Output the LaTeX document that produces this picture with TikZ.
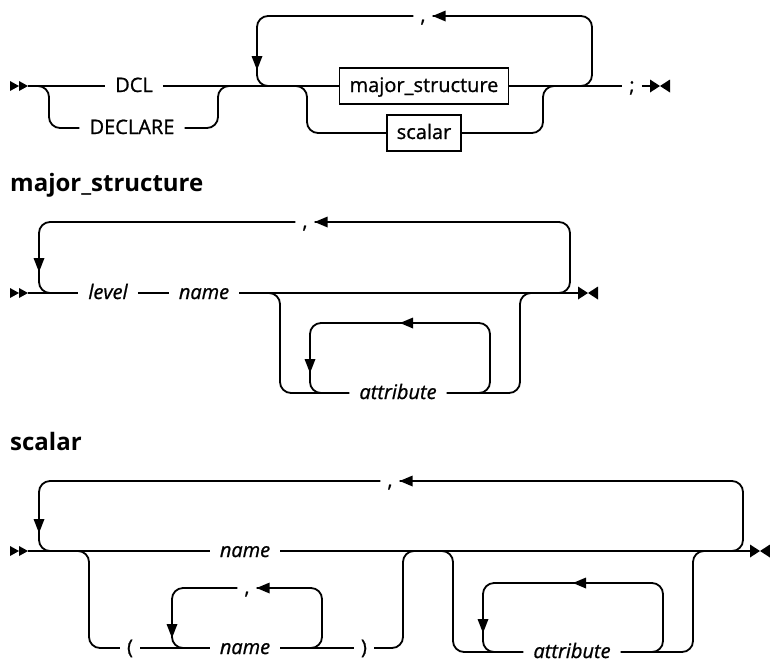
\documentclass[tikz,border=0pt]{standalone}
\usepackage{fontspec}
\setmainfont{Open Sans}
\newfontfamily\railfont{Open Sans}[FakeBold=0.9]

\begin{document}
\begin{tikzpicture}[x=1pt, y=-1pt,
    rail/.style={line width=1.8pt, rounded corners=11pt},
    term/.style={inner xsep=10pt, inner ysep=0pt, text height=12pt, text depth=0pt,
        font=\fontsize{20}{24}\railfont},
    var/.style={term, font=\fontsize{20}{24}\railfont\itshape},
    ntbox/.style={term, draw, line width=1.8pt, minimum height=36pt},
    punct/.style={term, inner xsep=7pt},
    heading/.style={anchor=base west, inner sep=0pt, font=\fontsize{24}{28}\selectfont\bfseries},
    railbeg/.pic={\fill (-18,-5) -- (-9,0) -- (-18,5) -- cycle
        (-9,-5) -- (0,0) -- (-9,5) -- cycle;},
    railend/.pic={\fill (0,-6.5) -- (10,0) -- (0,6.5) -- cycle
        (20,-6.5) -- (10,0) -- (20,6.5) -- cycle;},
    tipdown/.pic={\fill (0,0) -- (-5.5,-14) -- (5.5,-14) -- cycle;},
    tipleft/.pic={\fill (0,0) -- (13,-5.5) -- (13,5.5) -- cycle;}]
\useasboundingbox (0,0) rectangle (770,665);

% DCL statement
\node[term] (dcl) at (134,86) {DCL};
\node[term] (declare) at (132,128) {DECLARE};
\node[ntbox] (major) at (424,86) {major\_structure};
\node[ntbox] (scal) at (424,133) {scalar};
\node[punct] (comA) at (423,16) {,};
\node[punct] (semi) at (632,86) {;};
\coordinate (begA) at (28,86);
\coordinate (endA) at (650,86);
\pic at (begA) {railbeg};
\draw[rail] (begA) -- (dcl.west);
\draw[rail] (begA) -- (49,86) -- (49,128) -- (declare.west);
\draw[rail] (declare.east) -- (218,128) -- (218,86) -- (232,86);
\draw[rail] (dcl.east) -- (major.west);
\draw[rail] (major.east) -- (semi.west);
\draw[rail] (570,86) -- (592,86) -- (592,16) -- (comA.east);
\draw[rail] (comA.west) -- (257,16) -- (257,86) -- (280,86);
\pic at (comA.east) {tipleft};
\pic at (257,70) {tipdown};
\draw[rail] (290,86) -- (307,86) -- (307,133) -- (scal.west);
\draw[rail] (scal.east) -- (543,133) -- (543,86) -- (560,86);
\draw[rail] (semi.east) -- (endA);
\pic at (endA) {railend};

% major_structure
\node[heading] (hmajor) at (10,191) {major\_structure};
\node[var] (level) at (108,293) {level};
\node[var] (nameA) at (204,293) {name};
\node[var] (attrA) at (398,393) {attribute};
\node[punct] (comB) at (305,222) {,};
\coordinate (begB) at (28,293);
\coordinate (endB) at (578,293);
\pic at (begB) {railbeg};
\draw[rail] (begB) -- (level.west);
\draw[rail] (level.east) -- (nameA.west);
\draw[rail] (nameA.east) -- (endB);
\draw[rail] (550,293) -- (570,293) -- (570,222) -- (comB.east);
\draw[rail] (comB.west) -- (39,222) -- (39,293) -- (60,293);
\pic at (comB.east) {tipleft};
\pic at (39,272) {tipdown};
\draw[rail] (265,293) -- (280,293) -- (280,393) -- (attrA.west);
\draw[rail] (attrA.east) -- (520,393) -- (520,293) -- (535,293);
\draw[rail] (470,393) -- (490,393) -- (490,323) -- (310,323) -- (310,393) -- (330,393);
\pic at (400,323) {tipleft};
\pic at (310,373) {tipdown};
\pic at (endB) {railend};

% scalar
\node[heading] (hscalar) at (10,450) {scalar};
\node[var] (nameB) at (245,551) {name};
\node[punct] (comC) at (390,481) {,};
\node[punct] (lpar) at (130,648) {(};
\node[var] (nameC) at (245,648) {name};
\node[punct] (rpar) at (364,648) {)};
\node[punct] (comD) at (247,588) {,};
\node[var] (attrB) at (572,652) {attribute};
\coordinate (begC) at (28,551);
\coordinate (endC) at (750,551);
\pic at (begC) {railbeg};
\draw[rail] (begC) -- (nameB.west);
\draw[rail] (nameB.east) -- (endC);
\draw[rail] (720,551) -- (743,551) -- (743,481) -- (comC.east);
\draw[rail] (comC.west) -- (39,481) -- (39,551) -- (60,551);
\pic at (comC.east) {tipleft};
\pic at (39,533) {tipdown};
\draw[rail] (75,551) -- (89,551) -- (89,648) -- (lpar.west);
\draw[rail] (lpar.east) -- (nameC.west);
\draw[rail] (nameC.east) -- (rpar.west);
\draw[rail] (rpar.east) -- (403,648) -- (403,551) -- (418,551);
\draw[rail] (300,648) -- (322,648) -- (322,588) -- (comD.east);
\draw[rail] (comD.west) -- (172,588) -- (172,648) -- (190,648);
\pic at (comD.east) {tipleft};
\pic at (172,638) {tipdown};
\draw[rail] (440,551) -- (453,551) -- (453,652) -- (attrB.west);
\draw[rail] (attrB.east) -- (693,652) -- (693,551) -- (708,551);
\draw[rail] (640,652) -- (663,652) -- (663,583) -- (483,583) -- (483,652) -- (500,652);
\pic at (573,583) {tipleft};
\pic at (483,633) {tipdown};
\pic at (endC) {railend};
\end{tikzpicture}
\end{document}
